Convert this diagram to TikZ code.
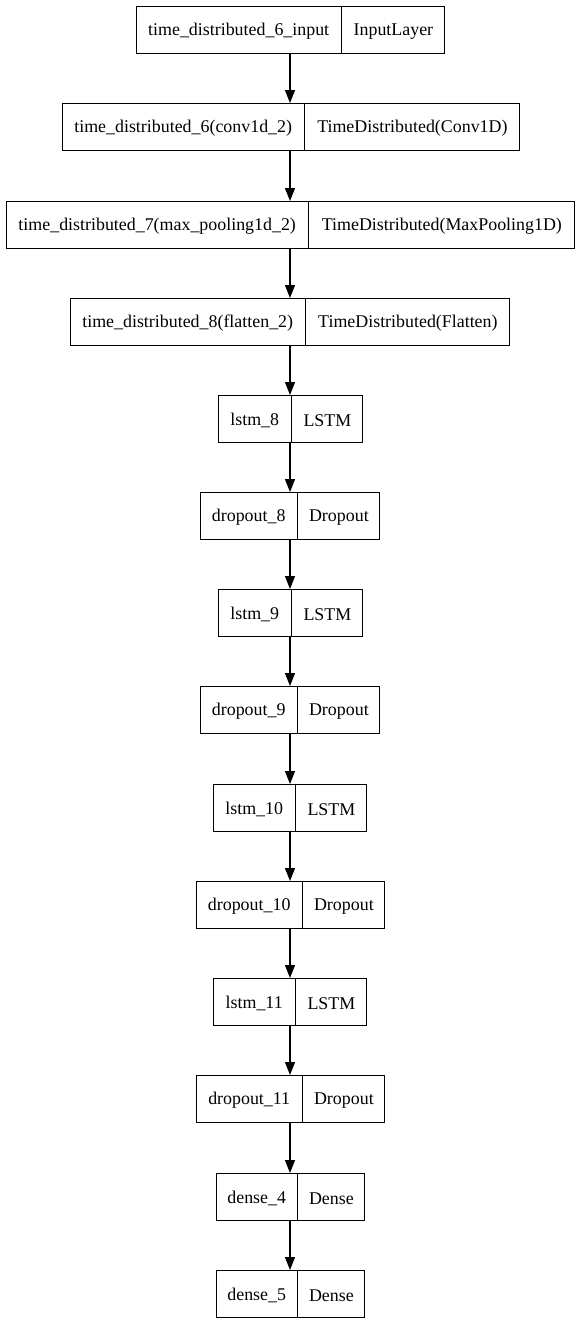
\documentclass[tikz,border=0pt]{standalone}
\usepackage{fontspec}
\setmainfont{Liberation Serif}
\usetikzlibrary{arrows.meta}
\begin{document}
\begin{tikzpicture}[x=1pt,y=-1pt,
  layerbox/.style={draw=black,line width=1.1pt,rectangle,inner sep=0pt,minimum height=47pt},
  cell/.style={rectangle,inner sep=0pt,minimum height=47pt,yshift=-1.5pt,font=\fontsize{17.9}{20}\selectfont},
  edge/.style={draw=black,line width=1.2pt,-{Triangle[length=13pt,width=10pt]}}]
\useasboundingbox (0,0) rectangle (580,1325);
\coordinate (axis) at (290,0);
% each layer: index / layer name / layer class / left / divider / right / top
\foreach \i/\a/\b/\xl/\xd/\xr/\t in {
  1/time\_distributed\_6\_input/InputLayer/136/341/444/6,
  2/time\_distributed\_6(conv1d\_2)/TimeDistributed(Conv1D)/62/304/519/103,
  3/time\_distributed\_7(max\_pooling1d\_2)/TimeDistributed(MaxPooling1D)/6/308/574/201,
  4/time\_distributed\_8(flatten\_2)/TimeDistributed(Flatten)/70/305/509/298,
  5/lstm\_8/LSTM/218/291/362/395,
  6/dropout\_8/Dropout/200/297/379/492,
  7/lstm\_9/LSTM/218/291/362/589,
  8/dropout\_9/Dropout/200/297/379/686,
  9/lstm\_10/LSTM/213/295/366/784,
  10/dropout\_10/Dropout/196/302/384/881,
  11/lstm\_11/LSTM/213/295/366/978,
  12/dropout\_11/Dropout/196/302/384/1075,
  13/dense\_4/Dense/216/297/364/1173,
  14/dense\_5/Dense/216/297/364/1270}{
  \node[layerbox,minimum width={(\xr-\xl)*1pt},anchor=north west] (L\i) at (\xl,\t) {};
  \node[cell,minimum width={(\xd-\xl)*1pt},anchor=west] (N\i) at (L\i.west) {\a};
  \node[cell,minimum width={(\xr-\xd)*1pt},anchor=east] (T\i) at (L\i.east) {\b};
  \draw[line width=1.1pt] (N\i.east |- L\i.north) -- (N\i.east |- L\i.south);
}
\foreach \i [evaluate=\i as \j using int(\i+1)] in {1,...,13}
  \draw[edge] (L\i.south -| axis) -- (L\j.north -| axis);
\end{tikzpicture}
\end{document}
